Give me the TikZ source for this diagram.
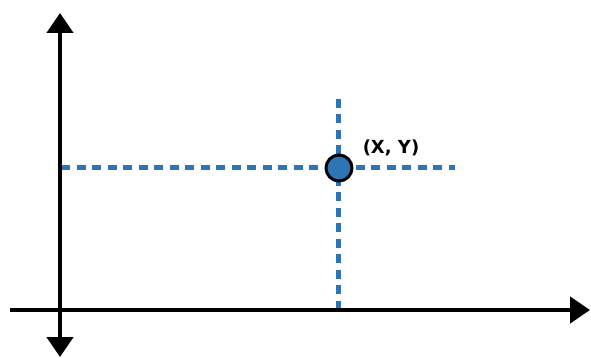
\documentclass[tikz,border=0pt]{standalone}
\usepackage{fontspec}
\setmainfont{DejaVu Sans}
\usetikzlibrary{arrows.meta}
\definecolor{dashblue}{HTML}{2E75B6}
\definecolor{dotblue}{HTML}{2E75B6}
\tikzset{
  axis/.style={line width=4.5pt, -{Triangle[length=20pt,width=26pt]}},
  guide/.style={line width=5pt, dashblue, dash pattern=on 9pt off 6.5pt},
  pt/.style={circle, draw=black, line width=3pt, fill=dotblue, minimum size=26pt, inner sep=0pt},
  lbl/.style={font=\fontsize{18}{18}\selectfont\bfseries, inner sep=0pt}
}
\begin{document}
\begin{tikzpicture}[x=1pt,y=-1pt]
\useasboundingbox (0,0) rectangle (591,358);
\coordinate (vtop) at (60,13);
\coordinate (vbot) at (60,357);
\coordinate (vmid) at (60,310);
\coordinate (hleft) at (10,310);
\coordinate (hright) at (590,310);
\coordinate (gl) at (61,168);
\coordinate (gr) at (455,168);
\coordinate (gt) at (338,99);
\coordinate (gb) at (338,308);
\draw[guide] (gl) -- (gr);
\draw[guide] (gt) -- (gb);
\draw[axis] (vmid) -- (vtop);
\draw[axis] (vmid) -- (vbot);
\draw[axis] (hleft) -- (hright);
\node[pt] (p) at (339,168) {};
\node[lbl] (t) at (391,147.5) {(X, Y)};
\end{tikzpicture}
\end{document}
